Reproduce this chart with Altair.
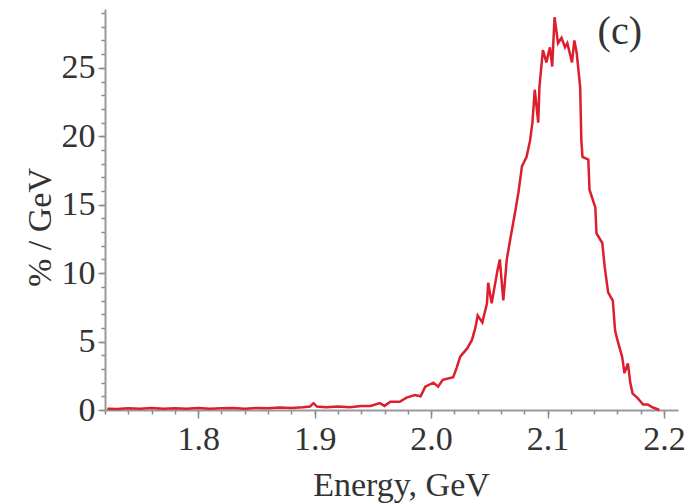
import altair as alt
import pandas as pd

energy = [1.722, 1.73, 1.74, 1.75, 1.76, 1.77, 1.78, 1.79, 1.80, 1.81, 1.82, 1.83,
          1.84, 1.85, 1.86, 1.87, 1.88, 1.89, 1.896, 1.899, 1.902, 1.91, 1.92, 1.93,
          1.94, 1.948, 1.956, 1.960, 1.965, 1.973, 1.979, 1.986, 1.991, 1.995, 2.002,
          2.006, 2.010, 2.019, 2.022, 2.025, 2.031, 2.035, 2.038, 2.040, 2.044, 2.048,
          2.049, 2.052, 2.057, 2.059, 2.062, 2.065, 2.068, 2.072, 2.075, 2.078, 2.082,
          2.085, 2.087, 2.089, 2.092, 2.093, 2.096, 2.099, 2.102, 2.104, 2.106, 2.109,
          2.112, 2.115, 2.117, 2.121, 2.123, 2.125, 2.128, 2.129, 2.130, 2.135, 2.136,
          2.141, 2.142, 2.147, 2.149, 2.152, 2.156, 2.158, 2.160, 2.164, 2.166, 2.169,
          2.171, 2.173, 2.177, 2.182, 2.186, 2.190, 2.196]
percent = [0.1, 0.08, 0.12, 0.1, 0.15, 0.1, 0.12, 0.1, 0.14, 0.1, 0.12, 0.15,
           0.1, 0.15, 0.12, 0.18, 0.15, 0.2, 0.25, 0.5, 0.25, 0.2, 0.25, 0.2,
           0.3, 0.3, 0.5, 0.3, 0.6, 0.6, 0.9, 1.1, 1.0, 1.7, 2.0,
           1.7, 2.2, 2.4, 3.1, 3.9, 4.5, 5.1, 6.0, 6.9, 6.4, 7.8,
           9.3, 7.8, 10.2, 11.0, 8.0, 11.0, 12.5, 14.4, 15.9, 17.8, 18.5,
           19.7, 21.0, 23.4, 21.0, 23.6, 26.3, 25.4, 26.5, 25.1, 28.7, 26.8,
           27.2, 26.5, 26.8, 25.4, 27.0, 26.1, 23.6, 19.7, 18.5, 18.3, 16.1,
           14.8, 12.9, 12.2, 10.5, 8.6, 8.0, 5.8, 5.1, 3.9, 2.7, 3.4,
           2.0, 1.2, 0.9, 0.4, 0.4, 0.2, 0.0]

x_major = [1.8, 1.9, 2.0, 2.1, 2.2]
x_minor = [round(1.72 + 0.02 * i, 2) for i in range(25)]
y_major = [0, 5, 10, 15, 20, 25]
y_minor = list(range(0, 30))

label_text = ["(c)"]
label_x = [2.162]
label_y = [27.6]

df = pd.DataFrame({"E": energy, "P": percent})
lab = pd.DataFrame({"E": label_x, "P": label_y, "t": label_text})

FONT = "Liberation Serif"

xscale = alt.Scale(domain=[1.72, 2.212], nice=False, zero=False)
yscale = alt.Scale(domain=[0, 29.3], nice=False)

# minor ticks layer (invisible points, its own axes drawn at the same sides)
minor = alt.Chart(df).mark_point(opacity=0).encode(
    x=alt.X("E:Q", scale=xscale,
            axis=alt.Axis(orient="bottom", values=x_minor, labels=False, domain=False,
                          tickSize=4, title=None)),
    y=alt.Y("P:Q", scale=yscale,
            axis=alt.Axis(orient="left", values=y_minor, labels=False, domain=False,
                          tickSize=4, title=None)),
)

line = alt.Chart(df).mark_line(color="#dc1e2d", strokeWidth=2.5).encode(
    x=alt.X("E:Q", scale=xscale,
            axis=alt.Axis(orient="bottom", values=x_major, title="Energy, GeV",
                          format=".1f", tickSize=8,
                          labelPadding=4, labelOverlap=False, labelFlush=False,
                          titleX=296, titleY=85, titleBaseline="alphabetic",
                          titleAlign="center", titleAnchor="start")),
    y=alt.Y("P:Q", scale=yscale,
            axis=alt.Axis(orient="left", values=y_major, title="% / GeV",
                          format="d", tickSize=7,
                          labelPadding=3, labelOverlap=False, labelFlush=False,
                          titleX=-55, titleY=218, titleBaseline="alphabetic",
                          titleAlign="center", titleAngle=270, titleAnchor="start")),
)

text = alt.Chart(lab).mark_text(font=FONT, fontSize=40, color="#333",
                                align="center", baseline="middle").encode(
    x=alt.X("E:Q", scale=xscale, axis=None), y=alt.Y("P:Q", scale=yscale, axis=None),
    text="t:N")

chart = alt.layer(minor, line, text).resolve_axis(
    x="independent", y="independent"
).properties(
    width=573, height=401,
    autosize=alt.AutoSizeParams(type="none"),
    padding={"left": 97, "top": 1, "right": 14, "bottom": 94},
).configure_view(stroke=None).configure_axis(
    grid=False, domainColor="#999", domainWidth=2, tickColor="#888", tickWidth=1.5,
    labelFont=FONT, labelFontSize=34, labelColor="#333",
    titleFont=FONT, titleFontSize=34, titleColor="#333", titleFontWeight="normal",
)

chart.save("out.html", embed_options={"renderer": "svg", "actions": False})
